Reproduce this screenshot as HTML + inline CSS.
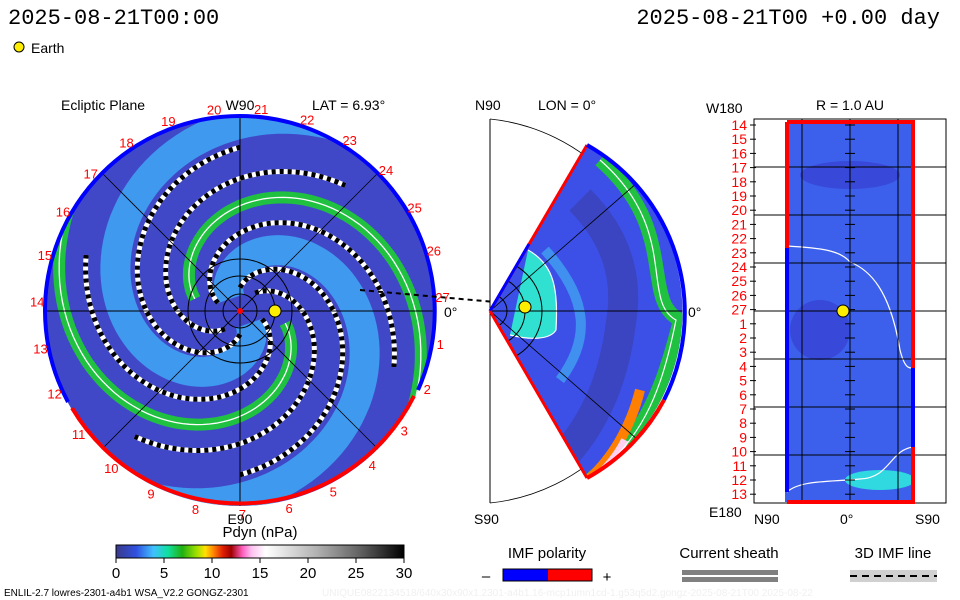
<!DOCTYPE html>
<html><head><meta charset="utf-8"><style>
body{margin:0;background:#fff;width:960px;height:600px;overflow:hidden}
svg{display:block}
text{font-family:"Liberation Sans",sans-serif}
.mono{font-family:"Liberation Mono",monospace}
</style></head><body>
<svg id="s" width="960" height="600" viewBox="0 0 960 600">
<defs>
<clipPath id="cc"><circle cx="240" cy="311" r="195"/></clipPath>
<clipPath id="cw"><path d="M490,311 L587,145 A193,193 0 0 1 587,478 Z"/></clipPath>
<linearGradient id="cb" x1="0" x2="1">
<stop offset="0" stop-color="#3a3a8a"/><stop offset="0.07" stop-color="#3050e0"/><stop offset="0.13" stop-color="#40c0ff"/><stop offset="0.18" stop-color="#10e0a0"/><stop offset="0.23" stop-color="#20b010"/><stop offset="0.28" stop-color="#a0e000"/><stop offset="0.31" stop-color="#ffe000"/><stop offset="0.34" stop-color="#ff8000"/><stop offset="0.37" stop-color="#e02000"/><stop offset="0.40" stop-color="#a00000"/><stop offset="0.44" stop-color="#ff60c0"/><stop offset="0.47" stop-color="#ffc0f0"/><stop offset="0.52" stop-color="#ffffff"/><stop offset="0.7" stop-color="#b0b0b0"/><stop offset="0.85" stop-color="#606060"/><stop offset="1" stop-color="#000"/>
</linearGradient>
</defs>
<text x="8" y="24" font-size="22" class="mono">2025-08-21T00:00</text>
<text x="940" y="24" font-size="22" class="mono" text-anchor="end">2025-08-21T00 +0.00 day</text>
<circle cx="19" cy="47" r="5" fill="#ffee00" stroke="#000"/>
<text x="31" y="53" font-size="14">Earth</text>

<g>
<text x="61" y="110" font-size="14">Ecliptic Plane</text>
<text x="240" y="110" font-size="14" text-anchor="middle">W90</text>
<text x="312" y="110" font-size="14">LAT = 6.93°</text>
<circle cx="240" cy="311" r="195" fill="#4048c8"/>
<g id="arms" clip-path="url(#cc)"></g>
<line x1="45" y1="311" x2="435" y2="311" stroke="#000"/>
<line x1="240" y1="116" x2="240" y2="506" stroke="#000"/>
<line x1="102" y1="173" x2="378" y2="449" stroke="#000" stroke-width="0.8"/>
<line x1="378" y1="173" x2="102" y2="449" stroke="#000" stroke-width="0.8"/>
<circle cx="240" cy="311" r="17" fill="none" stroke="#000"/>
<circle cx="240" cy="311" r="35" fill="none" stroke="#000"/>
<circle cx="240" cy="311" r="52" fill="none" stroke="#000"/>
<path d="M240,116 A195,195 0 0 1 418,390" fill="none" stroke="#0000ff" stroke-width="4"/>
<path d="M45,311 A195,195 0 0 1 240,116" fill="none" stroke="#0000ff" stroke-width="4"/>
<path d="M45,311 A195,195 0 0 0 68,402" fill="none" stroke="#0000ff" stroke-width="4"/>
<path d="M72,408 A195,195 0 0 0 414,396" fill="none" stroke="#ff0000" stroke-width="4"/>
<line x1="360" y1="290" x2="540" y2="306" stroke="#000" stroke-width="2" stroke-dasharray="5,4"/>
<circle cx="240" cy="311" r="3" fill="#f00"/>
<circle cx="275" cy="311" r="6" fill="#ffee00" stroke="#000"/>
<g id="lonlabels" font-size="13" fill="#ff0000"></g>
<text x="444" y="317" font-size="14">0°</text>
<text x="240" y="524" font-size="14" text-anchor="middle">E90</text>
</g>

<g>
<text x="475" y="110" font-size="14">N90</text>
<text x="538" y="110" font-size="14">LON = 0°</text>
<path d="M490,119 L490,503" stroke="#000"/>
<path d="M490,119 A193,193 0 0 1 490,503" fill="none" stroke="#000" stroke-width="0.8"/>
<g clip-path="url(#cw)">
<rect x="490" y="140" width="200" height="345" fill="#3c50e8"/>
<path d="M600,160 C680,230 640,300 680,320 C660,400 640,440 590,480" fill="none" stroke="#20c040" stroke-width="14"/>
<path d="M640,390 C630,430 610,460 590,478" fill="none" stroke="#ff8000" stroke-width="10"/>
<path d="M625,440 C615,460 600,475 590,482" fill="none" stroke="#ffd0f0" stroke-width="8"/>
<path d="M600,160 C680,230 640,300 676,320 C660,400 640,440 590,480" fill="none" stroke="#fff" stroke-width="1.2"/>
<path d="M580,200 C640,260 620,320 620,330 C610,400 580,440 560,460" fill="none" stroke="#3a40b0" stroke-width="30" opacity="0.7"/>
<path d="M545,250 C590,300 590,340 560,380" fill="none" stroke="#40a0f0" stroke-width="10" opacity="0.8"/>
<path d="M528,250 C555,265 558,290 556,330 C550,340 530,340 510,335" fill="#30e0d0" stroke="#fff" stroke-width="1.2"/>
<circle cx="490" cy="311" r="17" fill="none" stroke="#000"/>
<circle cx="490" cy="311" r="35" fill="none" stroke="#000"/>
<circle cx="490" cy="311" r="52" fill="none" stroke="#000"/>
<line x1="490" y1="311" x2="690" y2="311" stroke="#000"/>
<line x1="490" y1="311" x2="645" y2="176" stroke="#000" stroke-width="0.8"/>
<line x1="490" y1="311" x2="645" y2="446" stroke="#000" stroke-width="0.8"/>
</g>
<path d="M490,311 L587,145" stroke="#ff0000" stroke-width="3"/>
<path d="M490,311 L529,244" stroke="#0000ff" stroke-width="3"/>
<path d="M490,311 L587,478" stroke="#ff0000" stroke-width="3"/>
<path d="M587,145 A193,193 0 0 1 664,400" fill="none" stroke="#0000ff" stroke-width="4"/>
<path d="M664,400 A193,193 0 0 1 587,478" fill="none" stroke="#ff0000" stroke-width="4"/>
<circle cx="525" cy="307" r="6" fill="#ffee00" stroke="#000"/>
<text x="688" y="317" font-size="14">0°</text>
<text x="474" y="524" font-size="14">S90</text>
</g>

<g>
<text x="850" y="110" font-size="14" text-anchor="middle">R = 1.0 AU</text>
<text x="706" y="113" font-size="14">W180</text>
<text x="709" y="517" font-size="14">E180</text>
<text x="754" y="524" font-size="14">N90</text>
<text x="840" y="524" font-size="14">0°</text>
<text x="915" y="524" font-size="14">S90</text>
<rect x="754" y="119" width="192" height="384" fill="#fff" stroke="#000"/>
<rect x="785" y="122" width="128" height="380" fill="#3c60ec"/>
<ellipse cx="850" cy="175" rx="50" ry="14" fill="#3848d8"/>
<ellipse cx="820" cy="330" rx="30" ry="30" fill="#3848d8"/>
<ellipse cx="880" cy="480" rx="35" ry="10" fill="#30d8e0"/>
<path d="M787,246 C820,248 840,250 850,262 C870,270 890,290 900,350 C905,370 910,368 913,368" fill="none" stroke="#fff" stroke-width="1.2"/>
<path d="M787,492 C800,480 830,482 860,479 C890,478 890,450 913,447" fill="none" stroke="#fff" stroke-width="1.2"/>
<g id="grid" stroke="#000" stroke-width="1"></g>
<path d="M787,122 L913,122 L913,368 M913,447 L913,502 L787,502 M787,122 L787,248" fill="none" stroke="#ff0000" stroke-width="4"/>
<path d="M787,248 L787,492 M913,368 L913,447" stroke="#0000ff" stroke-width="4"/>
<circle cx="843" cy="311" r="6" fill="#ffee00" stroke="#000"/>
<g id="rlabels" font-size="14" fill="#ff0000" text-anchor="end"></g>
</g>

<g>
<text x="260" y="537" font-size="15" text-anchor="middle">Pdyn (nPa)</text>
<rect x="116" y="545" width="288" height="13" fill="url(#cb)" stroke="#000"/>
<g id="cbticks" font-size="15" text-anchor="middle"></g>
</g>

<g>
<text x="547" y="558" font-size="15" text-anchor="middle">IMF polarity</text>
<rect x="503" y="569" width="45" height="12" fill="#0000ff"/>
<rect x="548" y="569" width="44" height="12" fill="#ff0000"/>
<rect x="503" y="569" width="89" height="12" fill="none" stroke="#000"/>
<text x="486" y="581" font-size="15" text-anchor="middle">–</text>
<text x="607" y="582" font-size="15" text-anchor="middle">+</text>
</g>
<g>
<text x="729" y="558" font-size="15" text-anchor="middle">Current sheath</text>
<rect x="682" y="570" width="96" height="5" fill="#808080"/>
<rect x="682" y="577" width="96" height="5" fill="#808080"/>
</g>
<g>
<text x="893" y="558" font-size="15" text-anchor="middle">3D IMF line</text>
<rect x="850" y="570" width="87" height="12" fill="#d0d0d0"/>
<line x1="850" y1="576" x2="937" y2="576" stroke="#000" stroke-width="2" stroke-dasharray="7,5"/>
</g>
<text x="4" y="596" font-size="10">ENLIL-2.7 lowres-2301-a4b1 WSA_V2.2 GONGZ-2301</text>
<text x="322" y="596" font-size="10" fill="#f0f0f0">UNIQUE0822134518/640x30x90x1.2301-a4b1.16-mcp1umn1cd-1.g53q5d2.gongz-2025-08-21T00   2025-08-22</text>
</svg>
<script>
const NS='http://www.w3.org/2000/svg';
// Data arrays
const lonLabels=[27,1,2,3,4,5,6,7,8,9,10,11,12,13,14,15,16,17,18,19,20,21,22,23,24,25,26];
const rowLabels=[14,15,16,17,18,19,20,21,22,23,24,25,26,27,1,2,3,4,5,6,7,8,9,10,11,12,13];
const cbTicks=[0,5,10,15,20,25,30];
const armStarts=[-225,-45];        // spiral phase (deg) of the two main arms
const broadStarts=[-150,30];
const dashStarts=[-190,-10,-260,-80,-120,60];

function el(tag,attrs,parent){const e=document.createElementNS(NS,tag);for(const k in attrs)e.setAttribute(k,attrs[k]);parent.appendChild(e);return e;}
const cx=240,cy=311,k=0.78;
function spiral(ts,t0,t1){let d='';for(let t=t0;t<=t1;t+=3){const r=k*(t-ts);const a=t*Math.PI/180;d+=(d?'L':'M')+(cx+r*Math.cos(a)).toFixed(1)+','+(cy+r*Math.sin(a)).toFixed(1);}return d;}
const arms=document.getElementById('arms');
broadStarts.forEach(s=>{const p=el('path',{d:spiral(s,s+20,s+280),fill:'none',stroke:'#40a8f4','stroke-width':30,opacity:0.85},arms);

});
armStarts.forEach(s=>{
const p=el('path',{d:spiral(s,s+60,s+280),fill:'none',stroke:'#20c040','stroke-width':12},arms);


const w=el('path',{d:spiral(s,s+60,s+280),fill:'none',stroke:'#fff','stroke-width':1.3},arms);

});
dashStarts.forEach(s=>{const d=spiral(s,s+30,s+210);
const a=el('path',{d:d,fill:'none',stroke:'#fff','stroke-width':5},arms);


el('path',{d:d,fill:'none',stroke:'#000','stroke-width':5,'stroke-dasharray':'4,4'},arms);});
const ll=document.getElementById('lonlabels');
lonLabels.forEach((v,i)=>{const a=(-4+i*360/27)*Math.PI/180;const r=203;
const t=el('text',{x:(cx+r*Math.cos(a)).toFixed(1),y:(cy+5+r*Math.sin(a)).toFixed(1),'text-anchor':'middle'},ll);t.textContent=v;

});
const g=document.getElementById('grid');
[167,215,263,311,359,407,455].forEach(y=>el('line',{x1:754,y1:y,x2:946,y2:y},g));
[802,850,898].forEach(x=>el('line',{x1:x,y1:119,x2:x,y2:503},g));
const rl=document.getElementById('rlabels');
rowLabels.forEach((v,i)=>{const y=125+i*14.2;const t=el('text',{x:747,y:y+5},rl);t.textContent=v;


el('line',{x1:750,y1:y,x2:756,y2:y,stroke:'#000'},g);el('line',{x1:845,y1:y,x2:855,y2:y,stroke:'#000'},g);});
const cb=document.getElementById('cbticks');
cbTicks.forEach(v=>{const x=116+v/30*288;el('line',{x1:x,y1:558,x2:x,y2:563,stroke:'#000'},cb);
const t=el('text',{x:x,y:578},cb);t.textContent=v;

});
</script>
</body></html>
